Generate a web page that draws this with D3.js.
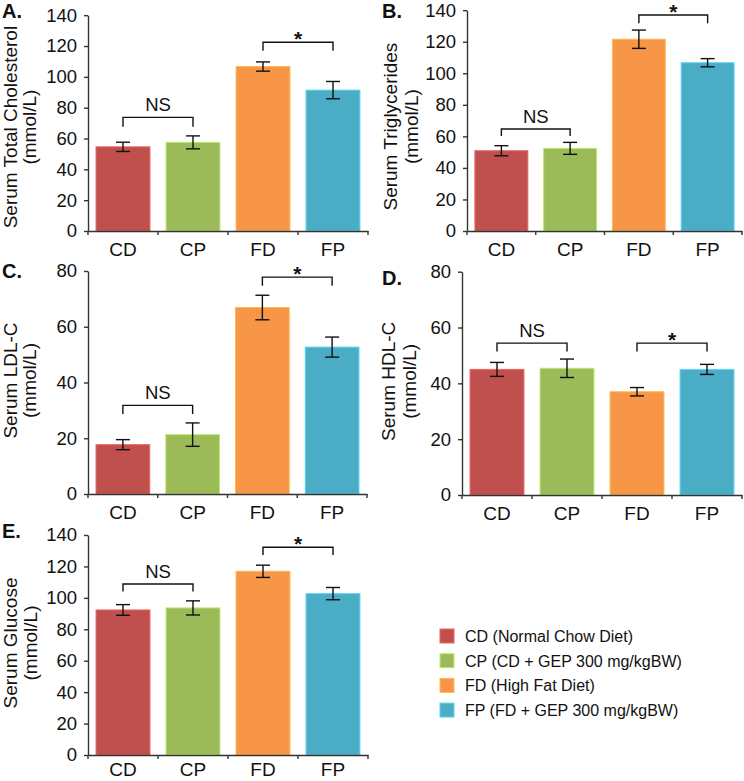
<!DOCTYPE html>
<html>
<head>
<meta charset="utf-8">
<script src="https://cdn.jsdelivr.net/npm/d3@7"></script>
<style>
  body { margin: 0; background: #fff; }
  text { font-family: "Liberation Sans", Arial, sans-serif; fill: #111; }
</style>
</head>
<body>
<div id="chart"></div>
<script>
// groups and colours
const groups = ["CD", "CP", "FD", "FP"];
const groupColors = ["#C0504D", "#9BBB59", "#F79646", "#4BACC6"];
const legendLabels = [
  "CD (Normal Chow Diet)",
  "CP (CD + GEP 300 mg/kgBW)",
  "FD (High Fat Diet)",
  "FP (FD + GEP 300 mg/kgBW)"
];

// means and error (SE)
const cholMean = [54.6, 57.5, 106.7, 91.4];
const cholErr = [3.0, 4.2, 3.0, 5.6];
const trigMean = [50.9, 52.4, 121.6, 106.7];
const trigErr = [3.2, 3.8, 5.8, 2.6];
const ldlMean = [17.7, 21.3, 66.9, 52.7];
const ldlErr = [1.8, 4.2, 4.4, 3.6];
const hdlMean = [45.0, 45.4, 37.0, 45.0];
const hdlErr = [2.5, 3.3, 1.5, 1.8];
const gluMean = [92.3, 93.6, 116.9, 102.7];
const gluErr = [3.4, 4.5, 3.9, 3.9];

// significance brackets: [from, to, label, top value, end value]
const cholSig = [[0, 1, "NS", 73.7, 67.6], [2, 3, "*", 122.5, 116.9]];
const trigSig = [[0, 1, "NS", 64.7, 60.2], [2, 3, "*", 137, 131.7]];
const ldlSig = [[0, 1, "NS", 31.8, 28.7], [2, 3, "*", 77.8, 74.7]];
const hdlSig = [[0, 1, "NS", 54.4, 51.4], [2, 3, "*", 54.4, 51.4]];
const gluSig = [[0, 1, "NS", 108.8, 104], [2, 3, "*", 132.2, 127.3]];

const panels = [
  { tag: "A.", title: ["Serum Total Cholesterol", "(mmol/L)"], mean: cholMean, err: cholErr, sig: cholSig,
    yMax: 140, yStep: 20, left: 88, right: 368, bottom: 231, top: 15.2, tagPos: [2, 18], titleX: [17, 36], titleDy: 4, labelPad: 12 },
  { tag: "B.", title: ["Serum Triglycerides", "(mmol/L)"], mean: trigMean, err: trigErr, sig: trigSig,
    yMax: 140, yStep: 20, left: 467, right: 742, bottom: 231, top: 10.2, tagPos: [382, 18], titleX: [397, 418], titleDy: 6, labelPad: 12 },
  { tag: "C.", title: ["Serum LDL-C", "(mmol/L)"], mean: ldlMean, err: ldlErr, sig: ldlSig,
    yMax: 80, yStep: 20, left: 88, right: 367, bottom: 494, top: 271, tagPos: [2, 278], titleX: [17, 36], titleDy: -2, labelPad: 12 },
  { tag: "D.", title: ["Serum HDL-C", "(mmol/L)"], mean: hdlMean, err: hdlErr, sig: hdlSig,
    yMax: 80, yStep: 20, left: 462, right: 742, bottom: 495, top: 271.7, tagPos: [382, 285], titleX: [395, 416], titleDy: -2, labelPad: 12 },
  { tag: "E.", title: ["Serum Glucose", "(mmol/L)"], mean: gluMean, err: gluErr, sig: gluSig,
    yMax: 140, yStep: 20, left: 88, right: 368, bottom: 755, top: 535, tagPos: [2, 538], titleX: [17, 37], titleDy: -2, labelPad: 8 }
];

const width = 744;
const height = 781;
const axisColor = "#333";

const svg = d3.select("#chart").append("svg")
  .attr("width", width)
  .attr("height", height);

panels.forEach(p => {
  const g = svg.append("g");

  const x = d3.scaleBand().domain(groups).range([p.left, p.right]).padding(0);
  const y = d3.scaleLinear().domain([0, p.yMax]).range([p.bottom, p.top]);
  const barW = x.bandwidth() * 0.77;
  const cx = i => x(groups[i]) + x.bandwidth() / 2;

  // bars
  g.selectAll("rect.bar")
    .data(p.mean)
    .join("rect")
    .attr("class", "bar")
    .attr("x", (d, i) => cx(i) - barW / 2)
    .attr("y", d => y(d))
    .attr("width", barW)
    .attr("height", d => y(0) - y(d))
    .attr("fill", (d, i) => groupColors[i])
    .attr("stroke", (d, i) => d3.color(groupColors[i]).brighter(0.6))
    .attr("stroke-width", 1);

  // error bars
  const eb = g.selectAll("g.err")
    .data(p.mean)
    .join("g")
    .attr("class", "err")
    .attr("stroke", "#111")
    .attr("stroke-width", 1.4);
  eb.append("line")
    .attr("x1", (d, i) => cx(i)).attr("x2", (d, i) => cx(i))
    .attr("y1", (d, i) => y(d + p.err[i])).attr("y2", (d, i) => y(d - p.err[i]));
  eb.append("line")
    .attr("x1", (d, i) => cx(i) - 7).attr("x2", (d, i) => cx(i) + 7)
    .attr("y1", (d, i) => y(d + p.err[i])).attr("y2", (d, i) => y(d + p.err[i]));
  eb.append("line")
    .attr("x1", (d, i) => cx(i) - 7).attr("x2", (d, i) => cx(i) + 7)
    .attr("y1", (d, i) => y(d - p.err[i])).attr("y2", (d, i) => y(d - p.err[i]));

  // y axis
  const yAxis = g.append("g")
    .attr("transform", `translate(${p.left},0)`)
    .call(d3.axisLeft(y).tickValues(d3.range(0, p.yMax + 1, p.yStep)).tickSize(4).tickSizeOuter(0).tickPadding(7));
  yAxis.selectAll("text").style("font-size", "18.5px").attr("fill", "#111");

  // x axis: labels centred, tick marks between categories
  const xAxis = g.append("g")
    .attr("transform", `translate(0,${p.bottom})`)
    .call(d3.axisBottom(x).tickSize(0).tickSizeOuter(0).tickPadding(p.labelPad));
  xAxis.selectAll("text").style("font-size", "19px").attr("fill", "#111");
  xAxis.selectAll(".tick line").remove();
  xAxis.selectAll("line.sep")
    .data(groups.map(c => x(c)).concat([p.right]))
    .join("line")
    .attr("class", "sep")
    .attr("x1", d => d).attr("x2", d => d)
    .attr("y1", 0).attr("y2", 4)
    .attr("stroke", axisColor);

  [yAxis, xAxis].forEach(a => {
    a.select(".domain").attr("stroke", axisColor).attr("stroke-width", 1.4);
    a.selectAll(".tick line").attr("stroke", axisColor).attr("stroke-width", 1.4);
  });
  xAxis.selectAll("line.sep").attr("stroke-width", 1.4);

  // significance brackets
  p.sig.forEach(([a, b, label, top, end]) => {
    g.append("path")
      .attr("d", `M${cx(a)},${y(end)}V${y(top)}H${cx(b)}V${y(end)}`)
      .attr("fill", "none")
      .attr("stroke", "#111")
      .attr("stroke-width", 1.4);
    const t = g.append("text")
      .attr("x", (cx(a) + cx(b)) / 2)
      .attr("text-anchor", "middle")
      .text(label);
    if (label === "*") {
      t.attr("y", y(top) + 4).style("font-size", "21px").style("font-weight", "bold");
    } else {
      t.attr("y", y(top) - 6).style("font-size", "18.5px");
    }
  });

  // panel tag
  g.append("text")
    .attr("x", p.tagPos[0]).attr("y", p.tagPos[1])
    .style("font-size", "20px").style("font-weight", "bold")
    .text(p.tag);

  // y title, two lines
  const cy = (p.top + p.bottom) / 2 + p.titleDy;
  p.title.forEach((line, k) => {
    g.append("text")
      .attr("transform", `translate(${p.titleX[k]},${cy}) rotate(-90)`)
      .attr("text-anchor", "middle")
      .style("font-size", "19px")
      .text(line);
  });
});

// legend
const legend = svg.append("g").attr("transform", "translate(440,629)");
const rowStep = 24.7;
legend.selectAll("rect")
  .data(groups)
  .join("rect")
  .attr("x", 0)
  .attr("y", (d, i) => i * rowStep)
  .attr("width", 14)
  .attr("height", 14)
  .attr("fill", (d, i) => groupColors[i])
  .attr("stroke", (d, i) => d3.color(groupColors[i]).brighter(0.6))
  .attr("stroke-width", 1);
legend.selectAll("text")
  .data(legendLabels)
  .join("text")
  .attr("x", 25)
  .attr("y", (d, i) => i * rowStep + 13)
  .style("font-size", "16px")
  .text(d => d);
</script>
</body>
</html>
